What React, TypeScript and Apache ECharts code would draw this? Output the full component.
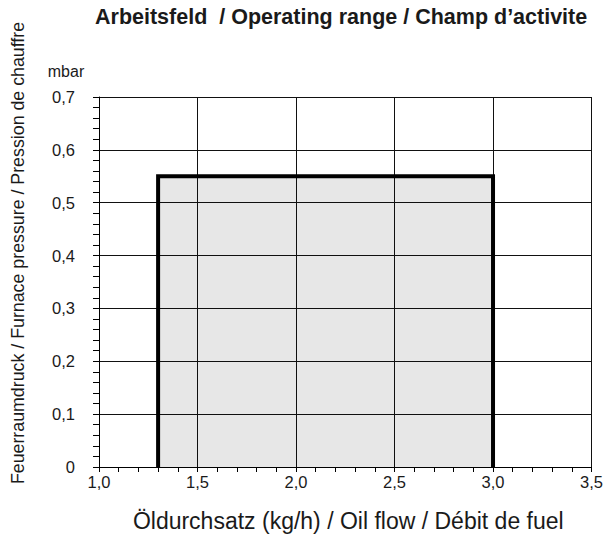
import React, { useEffect, useRef } from "react";
import * as echarts from "echarts";

const titleText = "Arbeitsfeld  / Operating range / Champ d\u2019activite";
const yTitle = "Feuerraumdruck / Furnace pressure / Pression de chauffre";
const xTitle = "Öldurchsatz (kg/h) / Oil flow / Débit de fuel";
const yUnit = "mbar";

// Operating range outline: [oil flow kg/h, furnace pressure mbar]
const rangeFlow = [1.3, 1.3, 3.0, 3.0];
const rangePressure = [0, 0.55, 0.55, 0];

const FONT = "'Liberation Sans', Arial, Helvetica, sans-serif";
const INK = "#1a1a1a";

export default function App() {
  const ref = useRef<HTMLDivElement>(null);
  useEffect(() => {
    const chart = echarts.init(ref.current!, null, { renderer: "svg" });
    const fmt = (v: number) => (v === 0 ? "0" : v.toFixed(1).replace(".", ","));
    chart.setOption({
      animation: false,
      backgroundColor: "#fff",
      textStyle: { fontFamily: FONT },
      title: {
        text: titleText,
        left: 90,
        top: 1,
        textStyle: { fontFamily: FONT, fontSize: 21.5, fontWeight: "bold", color: INK },
      },
      grid: { left: 99, right: 14, top: 97, bottom: 75 },
      xAxis: {
        type: "value",
        min: 1.0,
        max: 3.5,
        interval: 0.5,
        name: xTitle,
        nameLocation: "middle",
        nameGap: 42,
        nameTextStyle: { fontFamily: FONT, fontSize: 23, color: INK, padding: [0, 0, 0, 6] },
        axisLine: { show: true, lineStyle: { color: "#000", width: 1 } },
        axisTick: { show: true, inside: false, length: 5, lineStyle: { color: "#000" } },
        minorTick: { show: true, splitNumber: 5, length: 5, lineStyle: { color: "#000" } },
        splitLine: { show: true, lineStyle: { color: "#111", width: 1 } },
        axisLabel: {
          margin: 6,
          fontFamily: FONT,
          fontSize: 16.5,
          color: INK,
          formatter: (v: number) => v.toFixed(1).replace(".", ","),
        },
      },
      yAxis: {
        type: "value",
        min: 0,
        max: 0.7,
        interval: 0.1,
        axisLine: { show: true, lineStyle: { color: "#000", width: 1 } },
        axisTick: { show: true, inside: false, length: 6, lineStyle: { color: "#000" } },
        minorTick: { show: true, splitNumber: 5, length: 6, lineStyle: { color: "#000" } },
        splitLine: { show: true, lineStyle: { color: "#111", width: 1 } },
        axisLabel: {
          margin: 24,
          fontFamily: FONT,
          fontSize: 16.5,
          color: INK,
          formatter: fmt,
        },
      },
      graphic: [
        {
          type: "text",
          x: 18,
          y: 253,
          rotation: Math.PI / 2,
          style: {
            text: yTitle,
            font: `17.8px ${FONT}`,
            fill: INK,
            textAlign: "center",
            textVerticalAlign: "middle",
          },
        },
        {
          type: "text",
          x: 66,
          y: 71,
          style: {
            text: yUnit,
            font: `16px ${FONT}`,
            fill: INK,
            textAlign: "center",
            textVerticalAlign: "middle",
          },
        },
      ],
      series: [
        {
          type: "line",
          data: rangeFlow.map((f, i) => [f, rangePressure[i]]),
          symbol: "none",
          lineStyle: { color: "#000", width: 4, join: "miter", cap: "butt" },
          areaStyle: { color: "rgba(0,0,0,0.135)", origin: "start" },
          z: 3,
        },
      ],
    });
    return () => chart.dispose();
  }, []);
  return (
    <div
      ref={ref}
      style={{ position: "fixed", left: 0, top: 0, width: 606, height: 542 }}
    />
  );
}
